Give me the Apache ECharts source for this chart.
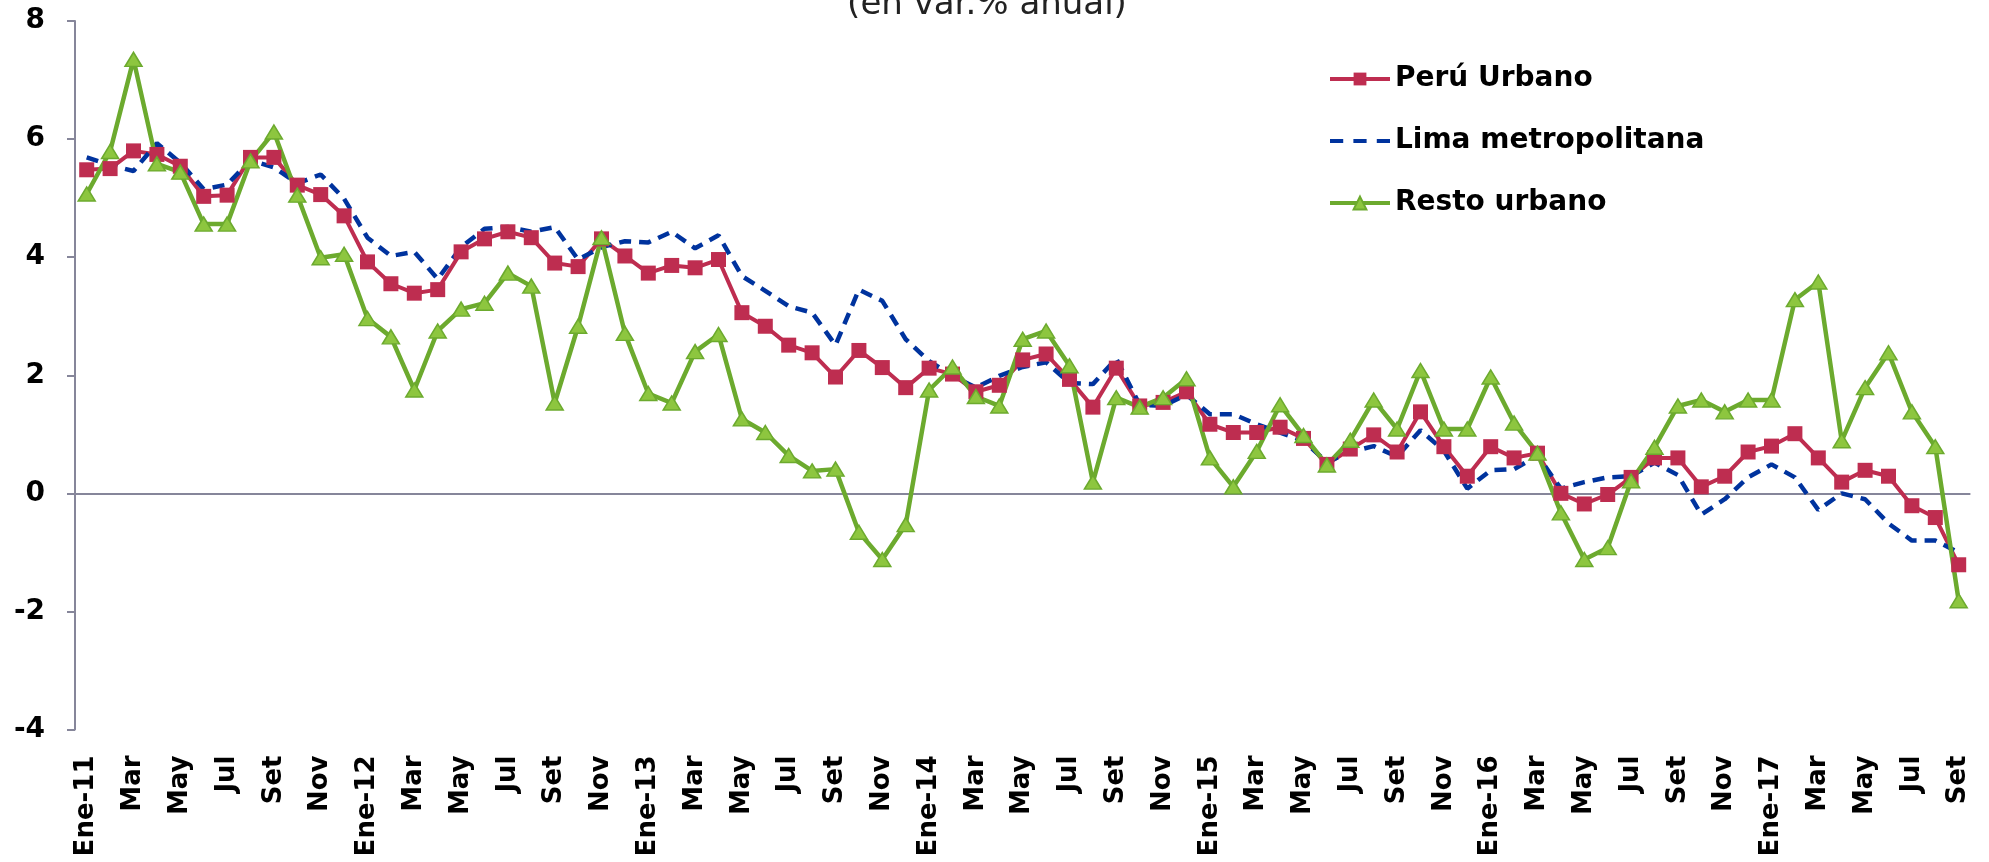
<!DOCTYPE html>
<html>
<head>
<meta charset="utf-8">
<script src="https://cdn.jsdelivr.net/npm/echarts@6/dist/echarts.min.js"></script>
<style>
html,body{margin:0;padding:0;background:#fff;}
#chart{width:1989px;height:862px;}
</style>
</head>
<body>
<div id="chart"></div>
<script>
var categories = [
"Ene-11","Feb","Mar","Abr","May","Jun","Jul","Ago","Set","Oct","Nov","Dic",
"Ene-12","Feb","Mar","Abr","May","Jun","Jul","Ago","Set","Oct","Nov","Dic",
"Ene-13","Feb","Mar","Abr","May","Jun","Jul","Ago","Set","Oct","Nov","Dic",
"Ene-14","Feb","Mar","Abr","May","Jun","Jul","Ago","Set","Oct","Nov","Dic",
"Ene-15","Feb","Mar","Abr","May","Jun","Jul","Ago","Set","Oct","Nov","Dic",
"Ene-16","Feb","Mar","Abr","May","Jun","Jul","Ago","Set","Oct","Nov","Dic",
"Ene-17","Feb","Mar","Abr","May","Jun","Jul","Ago","Set"
];

var peruUrbano = [
5.48,5.50,5.80,5.74,5.54,5.03,5.05,5.69,5.69,5.22,5.06,4.70,
3.92,3.55,3.39,3.45,4.09,4.31,4.43,4.33,3.90,3.84,4.31,4.02,
3.73,3.86,3.82,3.96,3.06,2.83,2.51,2.38,1.97,2.42,2.13,1.79,
2.12,2.02,1.72,1.83,2.26,2.36,1.93,1.46,2.12,1.48,1.54,1.72,
1.17,1.03,1.03,1.12,0.93,0.49,0.75,0.99,0.70,1.38,0.79,0.29,
0.79,0.60,0.68,0.00,-0.18,-0.02,0.27,0.60,0.60,0.11,0.29,0.70,
0.80,1.01,0.60,0.19,0.39,0.29,-0.21,-0.41,-1.21
];

var limaMetropolitana = [
5.69,5.56,5.46,5.93,5.60,5.15,5.23,5.64,5.52,5.25,5.40,4.99,
4.33,4.02,4.09,3.63,4.17,4.48,4.51,4.43,4.51,3.96,4.17,4.27,
4.25,4.43,4.15,4.37,3.68,3.43,3.17,3.06,2.51,3.45,3.26,2.61,
2.24,1.99,1.79,1.99,2.14,2.22,1.87,1.85,2.28,1.50,1.48,1.67,
1.34,1.34,1.17,1.03,0.89,0.53,0.70,0.80,0.62,1.07,0.72,0.08,
0.39,0.41,0.64,0.08,0.19,0.27,0.29,0.52,0.31,-0.36,-0.10,0.27,
0.49,0.27,-0.28,0.00,-0.10,-0.51,-0.80,-0.80,-1.00
];

var restoUrbano = [
5.07,5.79,7.35,5.58,5.44,4.56,4.56,5.63,6.12,5.05,3.99,4.05,
2.96,2.65,1.75,2.75,3.12,3.22,3.73,3.51,1.53,2.83,4.33,2.71,
1.69,1.53,2.40,2.69,1.26,1.03,0.64,0.38,0.41,-0.66,-1.12,-0.53,
1.75,2.14,1.64,1.48,2.61,2.75,2.16,0.19,1.62,1.46,1.62,1.94,
0.60,0.11,0.71,1.50,0.98,0.48,0.90,1.58,1.09,2.08,1.09,1.09,
1.97,1.19,0.68,-0.33,-1.12,-0.92,0.21,0.78,1.48,1.58,1.38,1.58,
1.58,3.28,3.58,0.89,1.79,2.38,1.38,0.79,-1.82
];

var seriesNames = ["Perú Urbano","Lima metropolitana","Resto urbano"];
var titleText = "(en var.% anual)";

var chart = echarts.init(document.getElementById('chart'), null, {renderer:'canvas'});
var axisGrey = '#86869A';
var option = {
  animation: false,
  backgroundColor: '#ffffff',
  graphic: [{
    type: 'text',
    x: 987, y: 22,
    style: {
      text: titleText,
      font: '34px "DejaVu Sans"',
      fill: '#222',
      align: 'center',
      verticalAlign: 'bottom'
    }
  }],
  legend: {
    orient: 'vertical',
    left: 1328,
    top: 64,
    itemWidth: 60,
    itemHeight: 16,
    itemGap: 32,
    padding: 0,
    lineStyle: {width: 4},
    textStyle: {fontSize: 28, fontWeight: 'bold', fontFamily: 'DejaVu Sans', color: '#000', lineHeight: 30},
    data: [
      {name: seriesNames[0]},
      {name: seriesNames[1], icon: 'path://M0,0H13V4H0Z M23,0H36V4H23Z M46,0H59V4H46Z'},
      {name: seriesNames[2]}
    ]
  },
  grid: {left: 75, right: 18.6, top: 21, bottom: 132.5, containLabel: false},
  xAxis: {
    type: 'category',
    data: categories,
    boundaryGap: true,
    axisLine: {show: false},
    axisTick: {show: false},
    splitLine: {show: false},
    axisLabel: {
      interval: 1,
      rotate: 90,
      margin: 26,
      fontSize: 26,
      fontWeight: 'bold',
      fontFamily: 'DejaVu Sans',
      color: '#000'
    }
  },
  yAxis: {
    type: 'value',
    min: -4, max: 8, interval: 2,
    axisLine: {show: true, lineStyle: {color: axisGrey, width: 2}},
    axisTick: {show: true, length: 8, lineStyle: {color: axisGrey, width: 2}},
    splitLine: {show: false},
    axisLabel: {margin: 30, fontSize: 28, fontWeight: 'bold', fontFamily: 'DejaVu Sans', color: '#000'}
  },
  series: [
    {
      name: seriesNames[0],
      type: 'line',
      data: peruUrbano,
      symbol: 'rect',
      symbolSize: 15,
      showAllSymbol: true,
      lineStyle: {color: '#BE2D50', width: 4},
      itemStyle: {color: '#BE2D50'},
      markLine: {
        silent: true,
        symbol: 'none',
        label: {show: false},
        lineStyle: {color: axisGrey, width: 2, type: 'solid'},
        data: [{yAxis: 0}],
        z: 1
      }
    },
    {
      name: seriesNames[1],
      type: 'line',
      data: limaMetropolitana,
      symbol: 'none',
      lineStyle: {color: '#00339E', width: 4.5, type: [12, 8]},
      itemStyle: {color: '#00339E'}
    },
    {
      name: seriesNames[2],
      type: 'line',
      data: restoUrbano,
      symbol: 'triangle',
      symbolSize: [17, 14],
      showAllSymbol: true,
      lineStyle: {color: '#6CAA2E', width: 4.5},
      itemStyle: {color: '#8DC63F', borderColor: '#6CAA2E', borderWidth: 1.5}
    }
  ]
};
chart.setOption(option);
</script>
</body>
</html>
